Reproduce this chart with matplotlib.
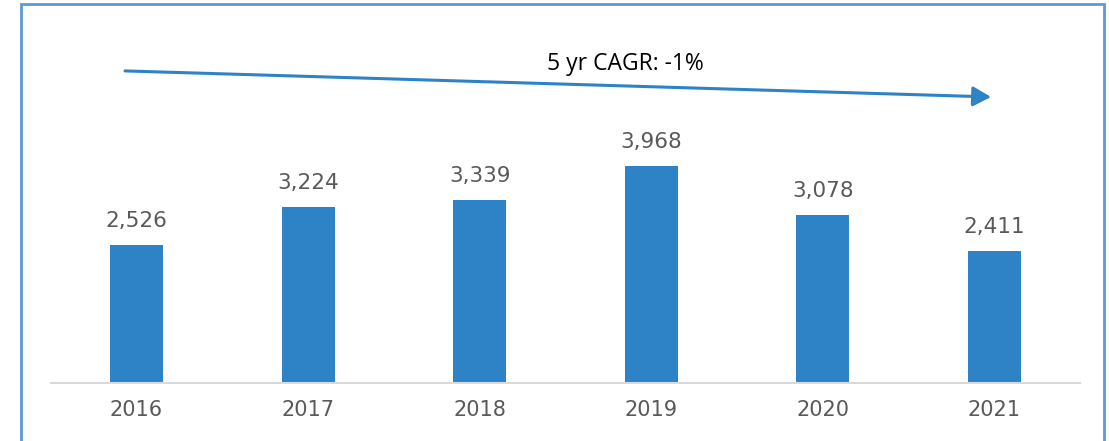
import matplotlib.pyplot as plt
from matplotlib.patches import Rectangle

years = ['2016', '2017', '2018', '2019', '2020', '2021']
values = [2526, 3224, 3339, 3968, 3078, 2411]
cagr_label = '5 yr CAGR: -1%'

bar_color = '#2E83C6'
text_gray = '#595959'

W, H = 1109, 441
fig = plt.figure(figsize=(W / 100, H / 100), dpi=100)
ax = fig.add_axes([50.7 / W, (H - 383) / H, 1029.6 / W, 383 / H])

x = list(range(len(years)))
ax.bar(x, values, width=0.31, color=bar_color, zorder=2)
ax.set_xlim(-0.5, 5.5)
ax.set_ylim(0, 7000)

for xi, v in zip(x, values):
    ax.annotate(f'{v:,}', (xi, v), xytext=(0, 10), textcoords='offset points',
                ha='center', va='bottom', fontsize=15.5, color=text_gray,
                family='DejaVu Sans')

ax.set_xticks(x)
ax.set_xticklabels(years, fontsize=15, color=text_gray, family='DejaVu Sans')
ax.tick_params(axis='x', length=0, pad=12)
ax.set_yticks([])
for side in ['top', 'right', 'left']:
    ax.spines[side].set_visible(False)
ax.spines['bottom'].set_color('#D9D9D9')
ax.spines['bottom'].set_linewidth(1.5)

# trend arrow
ax.annotate('', xy=(4.98, 5228), xytext=(-0.067, 5704),
            arrowprops=dict(arrowstyle='-|>,head_length=0.55,head_width=0.3',
                            mutation_scale=20, color=bar_color, lw=2.2,
                            shrinkA=0, shrinkB=0))
ax.text(2.85, 5610, cagr_label, ha='center', va='bottom', fontsize=16.5,
        color='black', family='Open Sans')

# outer frame
fig.patches.append(Rectangle((21 / W, -0.1), (1104 - 21) / W, 1.1 - 4 / H,
                             transform=fig.transFigure, fill=False,
                             edgecolor='#5B9BD5', linewidth=2))

fig.savefig('out.png', dpi=100)
